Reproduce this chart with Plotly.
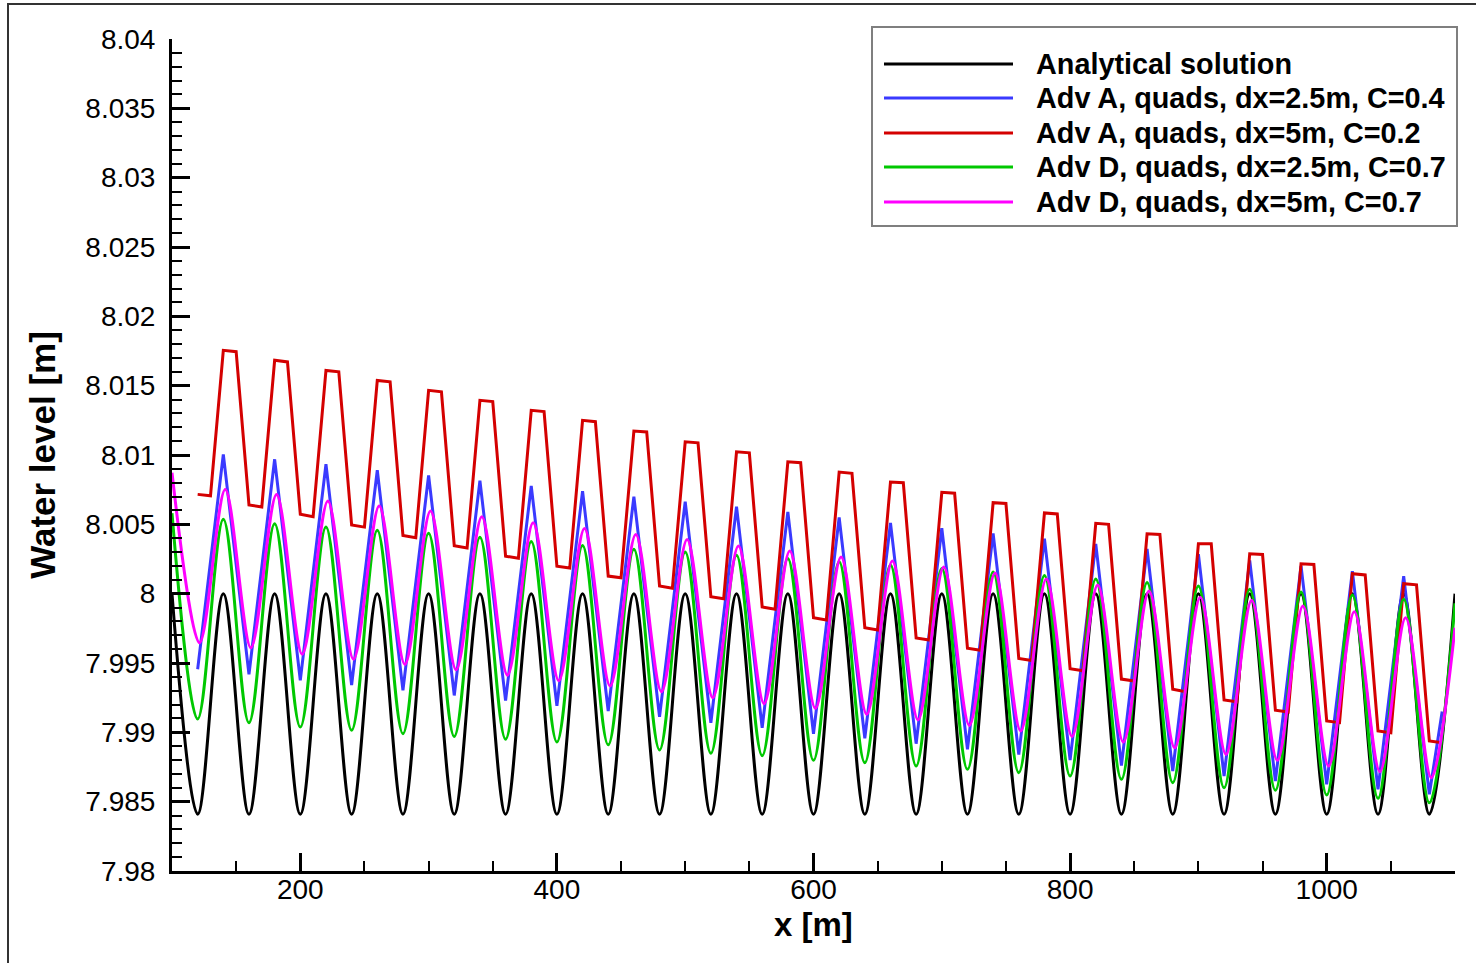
import plotly.graph_objects as go

# ---------------- data ----------------
x_ext = [100, 120, 140, 160, 180, 200, 220, 240, 260, 280, 300, 320, 340, 360, 380, 400,
         420, 440, 460, 480, 500, 520, 540, 560, 580, 600, 620, 640, 660, 680, 700, 720,
         740, 760, 780, 800, 820, 840, 860, 880, 900, 920, 940, 960, 980, 1000, 1020, 1040,
         1060, 1080, 1100]

analytic_y = [8.0, 7.9841, 8.0, 7.9841, 8.0, 7.9841, 8.0, 7.9841, 8.0, 7.9841, 8.0, 7.9841,
              8.0, 7.9841, 8.0, 7.9841, 8.0, 7.9841, 8.0, 7.9841, 8.0, 7.9841, 8.0, 7.9841,
              8.0, 7.9841, 8.0, 7.9841, 8.0, 7.9841, 8.0, 7.9841, 8.0, 7.9841, 8.0, 7.9841,
              8.0, 7.9841, 8.0, 7.9841, 8.0, 7.9841, 8.0, 7.9841, 8.0, 7.9841, 8.0, 7.9841,
              8.0, 7.9841, 8.0]

advD_25_y = [8.0058, 7.99096, 8.00536, 7.99069, 8.00505, 7.99038, 8.00481, 7.99015, 8.00457,
             7.9899, 8.00435, 7.9897, 8.00406, 7.9895, 8.00377, 7.9893, 8.00348, 7.9891,
             8.0032, 7.98873, 8.0030, 7.98849, 8.00277, 7.98832, 8.00253, 7.98798, 8.00231,
             7.98781, 8.00207, 7.98757, 8.00182, 7.98733, 8.00157, 7.98709, 8.00131, 7.98685,
             8.00106, 7.98661, 8.0008, 7.98637, 8.00055, 7.9860, 8.00031, 7.98582, 8.00012,
             7.98548, 7.9999, 7.98524, 7.9996, 7.98492, 7.9993]

advA_25_x = [120, 140, 160, 180, 200, 220, 240, 260, 280, 300, 320, 340, 360, 380, 400, 420,
             440, 460, 480, 500, 520, 540, 560, 580, 600, 620, 640, 660, 680, 700, 720, 740,
             760, 780, 800, 820, 840, 860, 880, 900, 920, 940, 960, 980, 1000, 1020, 1040,
             1060, 1080, 1090]
advA_25_y = [7.99455, 8.01005, 7.99418, 8.00969, 7.99375, 8.00933, 7.99341, 8.0089, 7.99303,
             8.00853, 7.99266, 8.00815, 7.99229, 8.00777, 7.99191, 8.00739, 7.99154, 8.0070,
             7.99111, 8.00664, 7.99069, 8.00628, 7.99033, 8.0059, 7.9899, 8.00549, 7.98957,
             8.0051, 7.98918, 8.00472, 7.98878, 8.00435, 7.98839, 8.00397, 7.988, 8.00359,
             7.9876, 8.00322, 7.98721, 8.00284, 7.98685, 8.0024, 7.98649, 8.002, 7.98625,
             8.00163, 7.98589, 8.00127, 7.98553, 7.9915]

advA_5_x = [120, 130,
            140, 150, 160, 170, 180, 190, 200, 210, 220, 230, 240, 250, 260, 270, 280, 290,
            300, 310, 320, 330, 340, 350, 360, 370, 380, 390, 400, 410, 420, 430, 440, 450,
            460, 470, 480, 490, 500, 510, 520, 530, 540, 550, 560, 570, 580, 590, 600, 610,
            620, 630, 640, 650, 660, 670, 680, 690, 700, 710, 720, 730, 740, 750, 760, 770,
            780, 790, 800, 810, 820, 830, 840, 850, 860, 870, 880, 890, 900, 910, 920, 930,
            940, 950, 960, 970, 980, 990, 1000, 1010, 1020, 1030, 1040, 1050, 1060, 1070,
            1080, 1090]
advA_5_y = [8.00716, 8.00706,
            8.01755, 8.01745, 8.0064, 8.00625,
            8.01683, 8.01671, 8.00572, 8.00555,
            8.0161, 8.0160, 8.00495, 8.0048,
            8.01538, 8.01528, 8.0042, 8.00403,
            8.01466, 8.01456, 8.00345, 8.0033,
            8.01394, 8.01385, 8.0027, 8.00256,
            8.01322, 8.01313, 8.00198, 8.00185,
            8.0125, 8.0124, 8.00127, 8.00115,
            8.01173, 8.01166, 8.00055, 8.00039,
            8.01095, 8.01088, 7.99978, 7.99964,
            8.01023, 8.01016, 7.99904, 7.99887,
            8.00951, 8.00944, 7.99827, 7.9981,
            8.00877, 8.00868, 7.99755, 7.99738,
            8.00805, 8.0080, 7.99681, 7.99666,
            8.00731, 8.00724, 7.99607, 7.99592,
            8.00656, 8.0065, 7.99532, 7.99518,
            8.00582, 8.00575, 7.99458, 7.99444,
            8.00507, 8.0050, 7.99384, 7.9937,
            8.00432, 8.00427, 7.9931, 7.99293,
            8.0036, 8.0036, 7.99233, 7.99221,
            8.00288, 8.00283, 7.99159, 7.99147,
            8.00216, 8.00211, 7.99082, 7.9907,
            8.00144, 8.00135, 7.9901, 7.98997,
            8.00072, 8.00064, 7.98938, 7.98925]

advD_5_x = [100, 121.5, 141.5, 161.5, 181.5, 201.5, 221.5, 241.5, 261.5, 281.5, 301.5, 321.5,
            341.5, 361.5, 381.5, 401.5, 421.5, 441.5, 461.5, 481.5, 501.5, 521.5, 541.5,
            561.5, 581.5, 601.5, 621.5, 641.5, 661.5, 681.5, 701.5, 721.5, 741.5, 761.5,
            781.5, 801.5, 821.5, 841.5, 861.5, 881.5, 901.5, 921.5, 941.5, 961.5, 981.5,
            1001.5, 1021.5, 1041.5, 1061.5, 1081.5, 1100]
advD_5_y = [8.00872, 7.99646, 8.00752, 7.9961, 8.00716, 7.99563, 8.00668, 7.99527, 8.00632,
            7.9949, 8.00596, 7.99451, 8.00554, 7.99412, 8.00512, 7.99373, 8.0047, 7.99334,
            8.00427, 7.99293, 8.00391, 7.9925, 8.00344, 7.99207, 8.00308, 7.99173, 8.00264,
            7.9913, 8.00236, 7.9909, 8.00193, 7.9905, 8.00149, 7.9901, 8.00106, 7.9897,
            8.00062, 7.9893, 8.00019, 7.98889, 7.99975, 7.98841, 7.99952, 7.98798, 7.99911,
            7.98757, 7.9987, 7.98716, 7.99827, 7.98673, 7.99755]

series_names = ["Analytical solution",
                "Adv A, quads, dx=2.5m, C=0.4",
                "Adv A, quads, dx=5m, C=0.2",
                "Adv D, quads, dx=2.5m, C=0.7",
                "Adv D, quads, dx=5m, C=0.7"]
series_colors = ["#000000", "#3a3aff", "#d40000", "#00c800", "#ff00ff"]

y_tickvals = [7.98, 7.985, 7.99, 7.995, 8.0, 8.005, 8.01, 8.015, 8.02, 8.025, 8.03, 8.035, 8.04]
y_ticktext = ["7.98", "7.985", "7.99", "7.995", "8", "8.005", "8.01", "8.015", "8.02",
              "8.025", "8.03", "8.035", "8.04"]
x_tickvals = [200, 400, 600, 800, 1000]

# ---------------- figure ----------------
W, H = 1476, 963
PL, PR, PT, PB = 172, 1455, 39, 871   # plot-area pixel box
FONT = "Liberation Sans, Arial, sans-serif"
LW = 3


def px_x(p):
    return (p - PL) / (PR - PL)


def px_y(p):
    return (PB - p) / (PB - PT)


fig = go.Figure()
traces = [
    (x_ext, analytic_y, dict(shape="spline", smoothing=1.0)),
    (advA_25_x, advA_25_y, dict(shape="linear")),
    (advA_5_x, advA_5_y, dict(shape="linear")),
    (x_ext, advD_25_y, dict(shape="spline", smoothing=1.0)),
    (advD_5_x, advD_5_y, dict(shape="spline", smoothing=0.9)),
]
for (xs, ys, ls), name, col in zip(traces, series_names, series_colors):
    fig.add_trace(go.Scatter(x=xs, y=ys, mode="lines", name=name, showlegend=False,
                             line=dict(color=col, width=LW, **ls)))

fig.update_layout(
    width=W, height=H,
    margin=dict(l=PL, r=W - PR, t=PT, b=H - PB, autoexpand=False),
    plot_bgcolor="white", paper_bgcolor="white",
    font=dict(family=FONT, color="black"),
    xaxis=dict(range=[100, 1100], showline=True, linecolor="black", linewidth=3,
               showgrid=False, zeroline=False,
               tickmode="array", tickvals=x_tickvals,
               ticks="inside", ticklen=18, tickwidth=3, tickcolor="black",
               tickfont=dict(family=FONT, size=28, color="black"),
               ticklabelstandoff=-9,
               minor=dict(ticks="inside", ticklen=10, tickwidth=1.5, tickcolor="black",
                          tickmode="linear", tick0=0, dtick=50, showgrid=False)),
    yaxis=dict(range=[7.98, 8.04], showline=True, linecolor="black", linewidth=3,
               showgrid=False, zeroline=False,
               tickmode="array", tickvals=y_tickvals, ticktext=y_ticktext,
               ticks="inside", ticklen=18, tickwidth=3, tickcolor="black",
               tickfont=dict(family=FONT, size=28, color="black"),
               ticklabelstandoff=8,
               minor=dict(ticks="inside", ticklen=10, tickwidth=1.5, tickcolor="black",
                          tickmode="linear", tick0=7.98, dtick=0.001, showgrid=False),
               title=dict(text="<b>Water level [m]</b>",
                          font=dict(family=FONT, size=35, color="black"), standoff=20)),
)

shapes = []
annotations = []
# x-axis title placed under the tick labels
annotations.append(dict(xref="paper", yref="paper", x=0.5, y=px_y(924),
                        xanchor="center", yanchor="middle", showarrow=False,
                        text="<b>x [m]</b>", font=dict(family=FONT, size=33, color="black")))
# outer frame of the picture
shapes.append(dict(type="rect", xref="paper", yref="paper",
                   x0=px_x(8), x1=px_x(1500), y0=px_y(990), y1=px_y(4),
                   line=dict(color="#333333", width=2), fillcolor="rgba(0,0,0,0)", layer="below"))
# legend box
shapes.append(dict(type="rect", xref="paper", yref="paper",
                   x0=px_x(872), x1=px_x(1457), y0=px_y(226), y1=px_y(27),
                   line=dict(color="#7f7f7f", width=2), fillcolor="white", layer="above"))
leg_rows = [64, 98, 133, 167, 202]
for row, name, col in zip(leg_rows, series_names, series_colors):
    shapes.append(dict(type="line", xref="paper", yref="paper",
                       x0=px_x(884), x1=px_x(1013), y0=px_y(row), y1=px_y(row),
                       line=dict(color=col, width=LW), layer="above"))
    annotations.append(dict(xref="paper", yref="paper", x=px_x(1034), y=px_y(row),
                            xanchor="left", yanchor="middle", showarrow=False,
                            text="<b>" + name + "</b>",
                            font=dict(family=FONT, size=28.8, color="black")))
fig.update_layout(shapes=shapes, annotations=annotations)

fig.write_html("out.html")
